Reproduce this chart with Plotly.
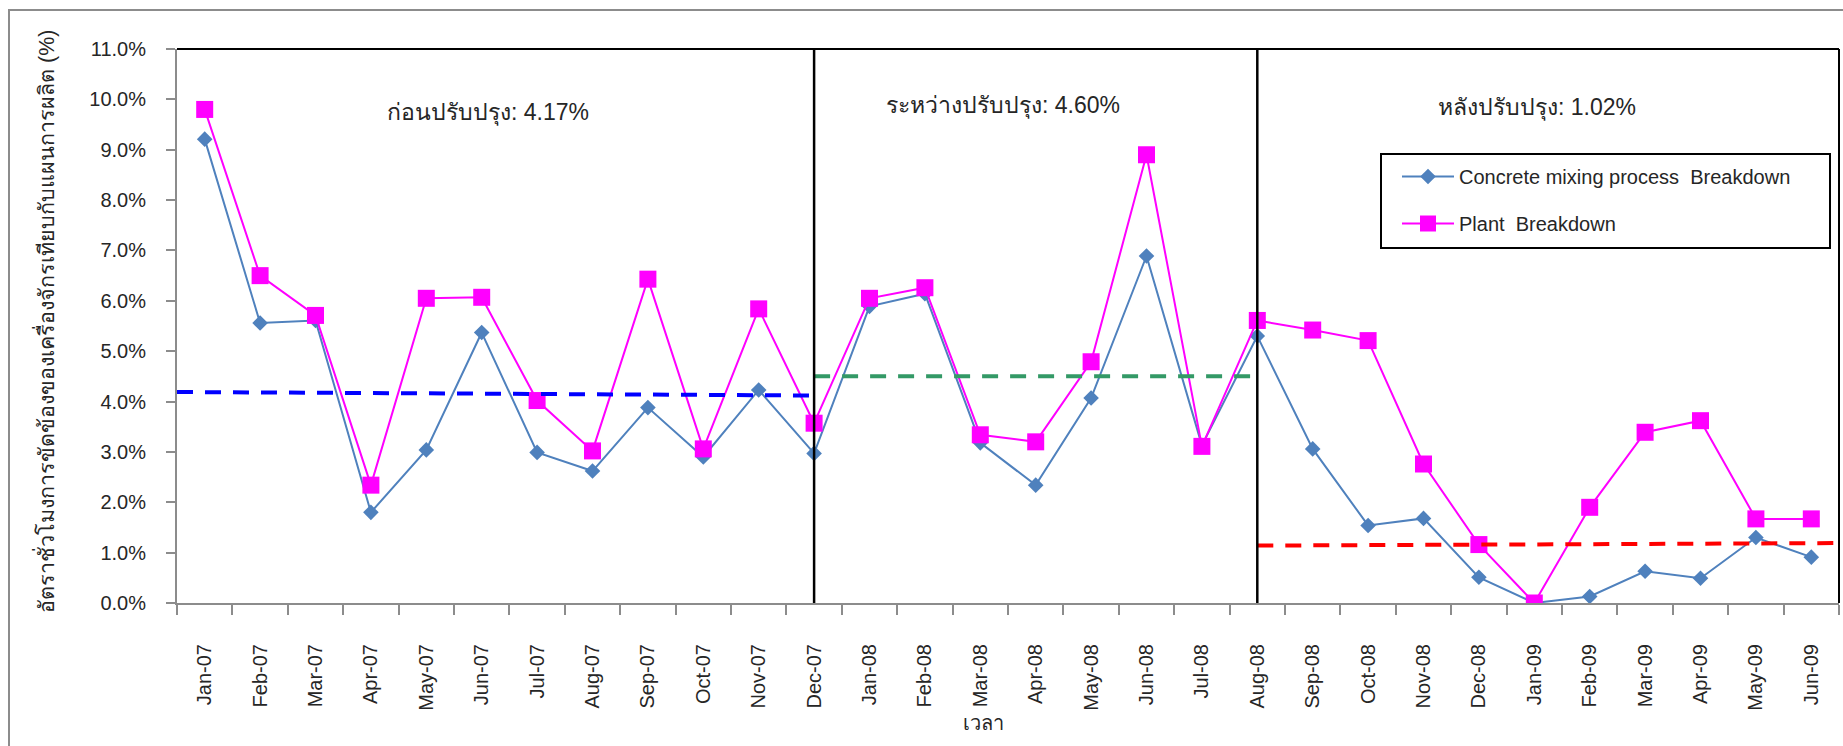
import numpy as np
import plotly.graph_objects as go

months = ["Jan-07", "Feb-07", "Mar-07", "Apr-07", "May-07", "Jun-07", "Jul-07", "Aug-07",
          "Sep-07", "Oct-07", "Nov-07", "Dec-07", "Jan-08", "Feb-08", "Mar-08", "Apr-08",
          "May-08", "Jun-08", "Jul-08", "Aug-08", "Sep-08", "Oct-08", "Nov-08", "Dec-08",
          "Jan-09", "Feb-09", "Mar-09", "Apr-09", "May-09", "Jun-09"]

concrete = [9.21, 5.56, 5.61, 1.80, 3.04, 5.37, 2.99, 2.62, 3.88, 2.90, 4.23, 2.97,
            5.89, 6.14, 3.18, 2.34, 4.07, 6.89, 3.13, 5.30, 3.06, 1.54, 1.68, 0.51,
            0.00, 0.13, 0.63, 0.49, 1.30, 0.91]

plant = [9.80, 6.50, 5.71, 2.34, 6.05, 6.07, 4.02, 3.02, 6.43, 3.06, 5.84, 3.57,
         6.05, 6.26, 3.34, 3.20, 4.79, 8.90, 3.11, 5.61, 5.42, 5.21, 2.76, 1.16,
         0.00, 1.90, 3.39, 3.62, 1.67, 1.67]

# phase average (trend) lines: [start value, end value]
before_line = [4.19, 4.12]
during_line = [4.50, 4.50]
after_line = [1.14, 1.19]

phase_labels = ["ก่อนปรับปรุง: 4.17%", "ระหว่างปรับปรุง: 4.60%", "หลังปรับปรุง: 1.02%"]
phase_split = ["Dec-07", "Aug-08"]

y_title = "อัตราชั่วโมงการขัดข้องของเครื่องจักรเทียบกับแผนการผลิต (%)"
x_title = "เวลา"

FONT = "Liberation Sans, Arial, Tahoma, sans-serif"
TXT = "#262626"
GRAY = "#8c8c8c"

x = np.arange(len(months))
i1 = months.index(phase_split[0])
i2 = months.index(phase_split[1])
x_start, x_end = x[0] - 0.5, x[-1] + 0.5

fig = go.Figure()
fig.add_trace(go.Scatter(
    x=x, y=concrete, mode="lines+markers", name="Concrete mixing process  Breakdown",
    line=dict(color="#4F81BD", width=2),
    marker=dict(symbol="diamond", size=12, color="#4F81BD"),
    legendgroup="a"))
fig.add_trace(go.Scatter(
    x=x, y=plant, mode="lines+markers", name="Plant  Breakdown",
    line=dict(color="#FF00FF", width=2),
    marker=dict(symbol="square", size=17, color="#FF00FF"),
    legendgroup="b"))

dash = "16px,12px"
for xs, ys, col in [([x_start, i1], before_line, "#0000FF"),
                    ([i1, i2], during_line, "#339966"),
                    ([i2, x_end], after_line, "#FF0000")]:
    fig.add_trace(go.Scatter(x=xs, y=ys, mode="lines", showlegend=False, hoverinfo="skip",
                             line=dict(color=col, width=4, dash=dash)))

# phase separators
for xi in [i1, i2]:
    fig.add_shape(type="line", xref="x", yref="paper", x0=xi, x1=xi, y0=0, y1=1,
                  line=dict(color="black", width=2.5))

# plot-area top and right borders
fig.add_shape(type="line", xref="paper", yref="paper", x0=0, x1=1, y0=1, y1=1,
              line=dict(color="black", width=2))
fig.add_shape(type="line", xref="paper", yref="paper", x0=1, x1=1, y0=0, y1=1,
              line=dict(color="black", width=2))

L, R, T, B = 177, 4, 49, 143
W, H = 1843, 746
pw, ph = W - L - R, H - T - B
def px(v):
    return (v - L) / pw
def py(v):
    return (H - B - v) / ph

# outer chart border (top/left visible)
fig.add_shape(type="rect", xref="paper", yref="paper", x0=px(9), x1=px(1900),
              y0=py(800), y1=py(10), line=dict(color=GRAY, width=2), layer="below")

# legend box
fig.add_shape(type="rect", xref="paper", yref="paper", x0=px(1381), x1=px(1830),
              y0=py(248), y1=py(154), line=dict(color="black", width=2),
              fillcolor="white", layer="above")

ann_pos = [(488, 113), (1003, 105), (1537, 107)]
for t, (ax_, ay_) in zip(phase_labels, ann_pos):
    fig.add_annotation(text=t, xref="paper", yref="paper", x=px(ax_), y=py(ay_),
                       showarrow=False, xanchor="center", yanchor="middle",
                       font=dict(size=23, color=TXT, family=FONT))

fig.add_annotation(text=y_title, xref="paper", yref="paper", x=px(45), y=py(322),
                   textangle=-90, showarrow=False, xanchor="center", yanchor="middle",
                   font=dict(size=21.5, color=TXT, family=FONT))
fig.add_annotation(text=x_title, xref="paper", yref="paper", x=px(983), y=py(723),
                   showarrow=False, xanchor="center", yanchor="middle",
                   font=dict(size=20, color=TXT, family=FONT))

fig.update_layout(
    width=W, height=H,
    margin=dict(l=L, r=R, t=T, b=B, pad=0),
    paper_bgcolor="white", plot_bgcolor="white",
    font=dict(family=FONT, size=18, color=TXT),
    showlegend=True,
    legend=dict(x=px(1397), y=py(157), xanchor="left", yanchor="top",
                bgcolor="rgba(0,0,0,0)", borderwidth=0,
                font=dict(size=20, family=FONT, color=TXT),
                tracegroupgap=18, itemwidth=52),
    xaxis=dict(range=[x_start, x_end], tickmode="array", tickvals=x, ticktext=months,
               tickangle=-90, ticks="", showgrid=False, zeroline=False,
               showline=True, linecolor=GRAY, linewidth=2,
               tickfont=dict(size=20, family=FONT, color=TXT),
               ticklabelstandoff=31,
               minor=dict(tickmode="linear", tick0=-0.5, dtick=1, ticks="outside",
                          ticklen=10, tickwidth=2, tickcolor=GRAY, showgrid=False)),
    yaxis=dict(range=[0, 11], dtick=1, tick0=0, tickformat=".1f", ticksuffix="%",
               ticks="outside", ticklen=9, tickwidth=2, tickcolor=GRAY,
               showline=True, linecolor=GRAY, linewidth=2,
               showgrid=False, zeroline=False,
               tickfont=dict(size=20, family=FONT, color=TXT),
               ticklabelstandoff=16),
)

fig.write_html("out.html", config={"displayModeBar": False},
               post_script="document.body.style.margin='0px';")
